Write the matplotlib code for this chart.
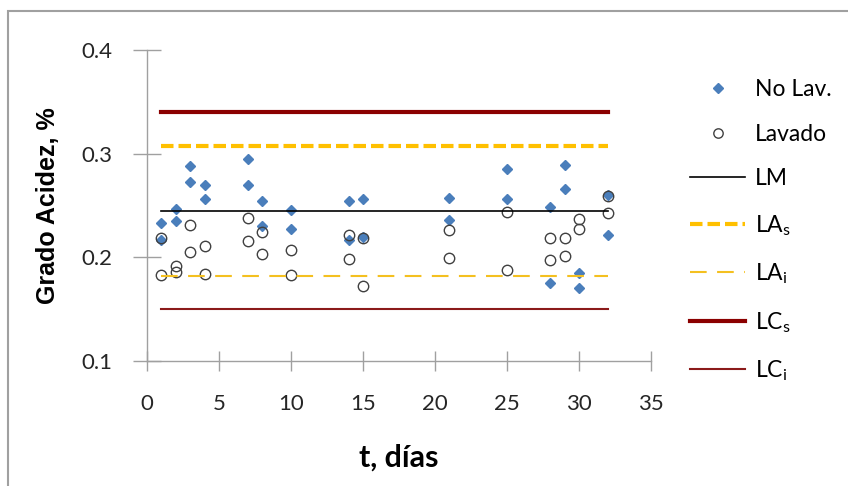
import numpy as np
import matplotlib
matplotlib.use("Agg")
import matplotlib.pyplot as plt
from matplotlib.patches import Rectangle

# data
dias = [1, 1, 2, 2, 3, 3, 4, 4, 7, 7, 8, 8, 10, 10, 14, 14, 15, 15,
        21, 21, 25, 25, 28, 28, 29, 29, 30, 30, 32, 32]
no_lav = [0.233, 0.217, 0.247, 0.235, 0.288, 0.273, 0.270, 0.256,
          0.295, 0.270, 0.254, 0.230, 0.246, 0.227, 0.254, 0.217,
          0.256, 0.220, 0.257, 0.236, 0.285, 0.256, 0.249, 0.175,
          0.289, 0.266, 0.185, 0.170, 0.260, 0.222]
lavado = [0.219, 0.183, 0.192, 0.186, 0.231, 0.205, 0.211, 0.184,
          0.238, 0.216, 0.224, 0.203, 0.207, 0.183, 0.222, 0.198,
          0.219, 0.172, 0.226, 0.199, 0.244, 0.188, 0.219, 0.197,
          0.219, 0.201, 0.237, 0.227, 0.259, 0.243]
t_lim = [1, 32]
LM = 0.245
LAs = 0.307
LAi = 0.182
LCs = 0.340
LCi = 0.150

plt.rcParams['font.family'] = ['Lato', 'DejaVu Sans']

fig = plt.figure(figsize=(8.48, 4.86), dpi=100)
ax = fig.add_axes([0.1733, 0.2572, 0.5943, 0.6399])

ax.plot(dias, no_lav, linestyle='none', marker='D', markersize=5.3,
        color='#4A7EBB', label='No Lav.')
ax.plot(dias, lavado, linestyle='none', marker='o', markersize=7.5,
        markerfacecolor='none', markeredgecolor='#404040', markeredgewidth=1,
        label='Lavado')
ax.plot(t_lim, [LM, LM], color='black', lw=1.2, label='LM')
ax.plot(t_lim, [LAs, LAs], color='#FFC000', lw=3, dashes=(3, 1.2),
        label='LA$_\\mathregular{s}$')
ax.plot(t_lim, [LAi, LAi], color='#F4C020', lw=1.5, dashes=(8, 5),
        label='LA$_\\mathregular{i}$')
ax.plot(t_lim, [LCs, LCs], color='#8B0000', lw=3, label='LC$_\\mathregular{s}$')
ax.plot(t_lim, [LCi, LCi], color='#8B1A1A', lw=1.5, label='LC$_\\mathregular{i}$')

ax.set_xlim(0, 35)
ax.set_ylim(0.1, 0.4)
ax.set_xticks(np.arange(0, 36, 5))
ax.set_yticks([0.1, 0.2, 0.3, 0.4])
ax.set_yticklabels(['0.1', '0.2', '0.3', '0.4'])
ax.tick_params(direction='inout', width=1, colors='#A0A0A0',
               labelcolor='#262626', labelsize=16)
ax.tick_params(axis='y', length=20, pad=15)
ax.tick_params(axis='x', length=14, pad=17)
for s in ['top', 'right']:
    ax.spines[s].set_visible(False)
for s in ['left', 'bottom']:
    ax.spines[s].set_color('#A0A0A0')
    ax.spines[s].set_linewidth(1)

ax.set_xlabel('t, días', fontsize=22, fontweight='bold', va='top')
ax.xaxis.set_label_coords(0.5, -0.265)
ax.set_ylabel('Grado Acidez, %', fontsize=18, fontweight='bold',
              family=['Liberation Sans', 'DejaVu Sans'])
ax.yaxis.set_label_coords(-0.172, 0.5)

ax.legend(loc='upper left', bbox_to_anchor=(690 / 848, 1 - 79 / 486),
          bbox_transform=fig.transFigure, frameon=False, borderpad=0,
          borderaxespad=0, fontsize=16.5, labelspacing=1.03,
          handlelength=2.4, handletextpad=0.45, markerscale=0.9)

fig.patches.append(Rectangle((8 / 848, -0.1), 1.2, 1.1 - 11 / 486,
                             transform=fig.transFigure, fill=False,
                             edgecolor='#A0A0A0', lw=1.5))

fig.savefig('out.png', dpi=100)
